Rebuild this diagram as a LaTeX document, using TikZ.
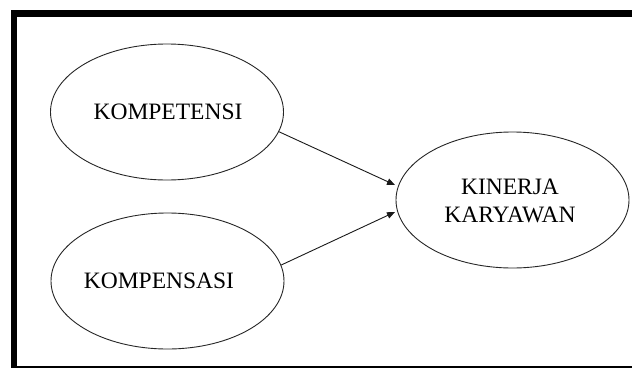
\documentclass[tikz,border=0pt]{standalone}
\usepackage{fontspec}
\setmainfont{Liberation Serif}
\usetikzlibrary{arrows.meta,shapes.geometric}
\begin{document}
\begin{tikzpicture}[x=1pt,y=-1pt,
  var/.style={ellipse,draw=black!85,line width=0.9pt,minimum width=233pt,minimum height=136pt,inner sep=0pt,align=center},
  lbl/.style={font=\fontsize{23.5}{28}\selectfont,align=center,inner sep=0pt},
  arr/.style={draw=black!90,line width=0.9pt,-{Triangle[length=8pt,width=6.5pt]}},
  frame/.style={fill=black}]
\useasboundingbox (0,0) rectangle (632,378);
\fill[frame] (11,10) rectangle (632,17);
\fill[frame] (11,10) rectangle (17,368);
\fill[frame] (11,366.3) rectangle (632,368);
\node[var] (k1) at (167,112) {};
\node[lbl] (l1) at (168,112) {KOMPETENSI};
\node[var] (k2) at (167.5,281) {};
\node[lbl] (l2) at (159,281) {KOMPENSASI};
\node[var] (k3) at (512.5,200) {};
\node[lbl] (l3) at (510,201) {KINERJA\\KARYAWAN};
\coordinate (t1) at (395,185);
\coordinate (t2) at (395,212);
\draw[arr] (k1.-10.7) -- (t1);
\draw[arr] (k2.8) -- (t2);
\end{tikzpicture}
\end{document}
